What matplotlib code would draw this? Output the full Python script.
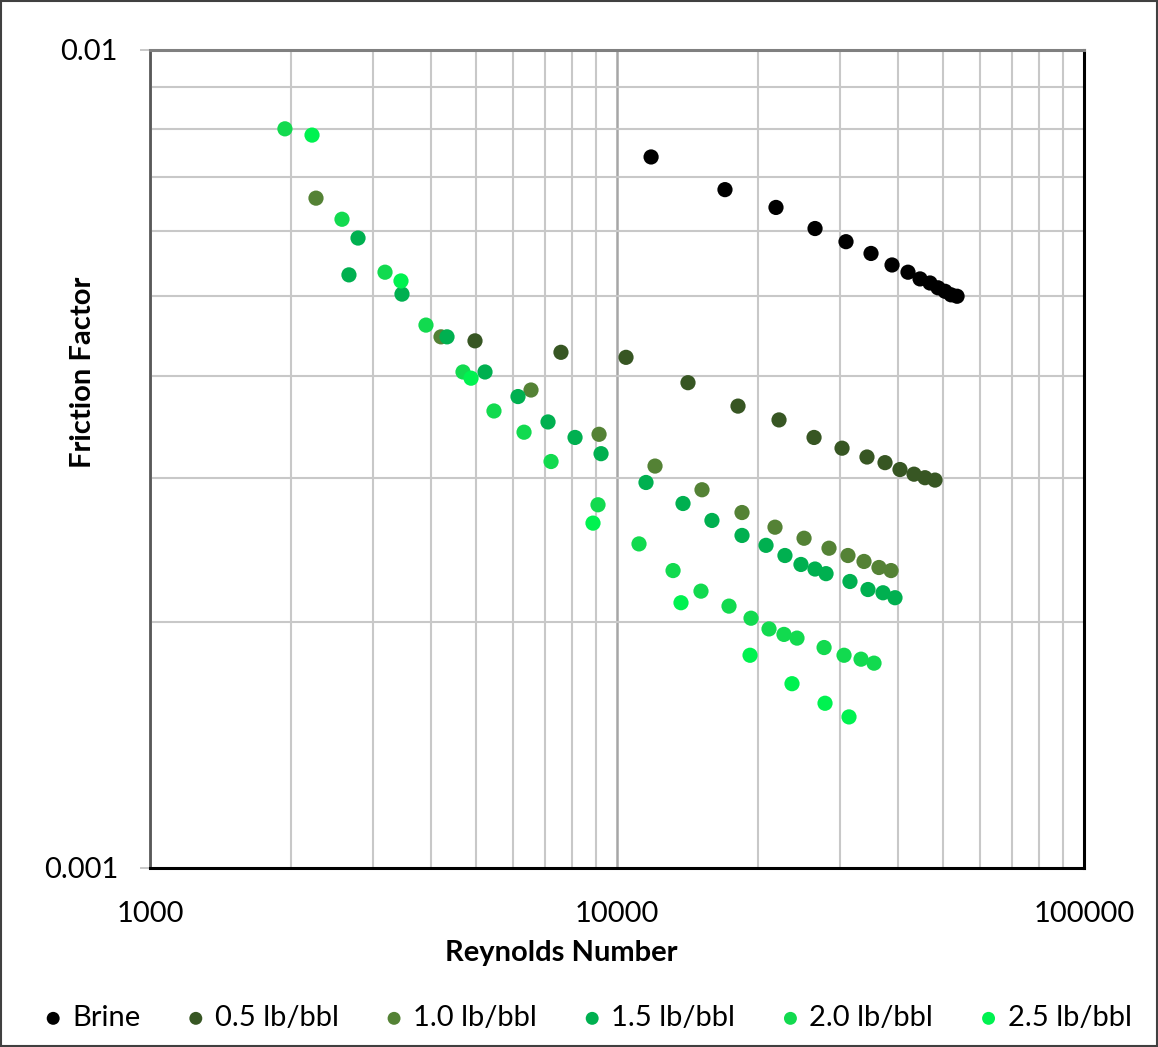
import numpy as np
import matplotlib
matplotlib.use("Agg")
import matplotlib.pyplot as plt
from matplotlib.ticker import FixedLocator, NullFormatter, FixedFormatter
from matplotlib.patches import Rectangle

plt.rcParams['font.family'] = ['Lato', 'DejaVu Sans']

# friction factor vs Reynolds number, one series per polymer loading
brine_re = [11830, 17030, 21900, 26550, 30930, 34990, 38810, 41990, 44560, 46800, 48690, 50410, 51920, 53480]
brine_f = [0.00740, 0.00675, 0.00642, 0.00605, 0.00583, 0.00564, 0.00546, 0.00535, 0.00525, 0.00519, 0.00512, 0.00507, 0.00502, 0.00500]

c05_re = [4965, 7586, 10454, 14191, 18160, 22230, 26420, 30330, 34300, 37490, 40360, 43250, 45650, 47970]
c05_f = [0.00441, 0.00427, 0.00421, 0.00392, 0.00367, 0.00353, 0.00336, 0.00326, 0.00318, 0.00313, 0.00307, 0.00303, 0.00300, 0.00298]

c10_re = [2267, 4199, 6544, 9153, 12062, 15206, 18522, 21794, 25150, 28443, 31230, 33800, 36390, 38620]
c10_f = [0.00659, 0.00446, 0.00384, 0.00339, 0.00310, 0.00290, 0.00272, 0.00261, 0.00253, 0.00246, 0.00241, 0.00237, 0.00233, 0.00231]

c15_re = [2667, 2789, 3464, 4325, 5216, 6138, 7117, 8131, 9243, 11537, 13847, 15970, 18522, 20850,
          22890, 24770, 26546, 28030, 31540, 34470, 37120, 39380]
c15_f = [0.00531, 0.00589, 0.00503, 0.00446, 0.00404, 0.00377, 0.00351, 0.00336, 0.00321, 0.00296, 0.00279,
         0.00266, 0.00255, 0.00248, 0.00241, 0.00235, 0.00232, 0.00229, 0.00224, 0.00219, 0.00217, 0.00214]

c20_re = [1945, 2577, 3186, 3899, 4680, 5452, 6323, 7224, 9106, 11146, 13184, 15130, 17372, 19364,
          21160, 22780, 24290, 27760, 30630, 33310, 35510]
c20_f = [0.00801, 0.00621, 0.00535, 0.00461, 0.00404, 0.00362, 0.00341, 0.00314, 0.00278, 0.00249, 0.00231,
         0.00218, 0.00209, 0.00202, 0.00196, 0.00193, 0.00191, 0.00186, 0.00182, 0.00180, 0.00178]

c25_re = [2223, 3447, 4869, 8884, 13710, 19270, 23700, 27890, 31390]
c25_f = [0.00787, 0.00522, 0.00397, 0.00264, 0.00211, 0.00182, 0.00168, 0.00159, 0.00153]

series = [
    ("Brine", brine_re, brine_f, "#000000"),
    ("0.5 lb/bbl", c05_re, c05_f, "#375623"),
    ("1.0 lb/bbl", c10_re, c10_f, "#548235"),
    ("1.5 lb/bbl", c15_re, c15_f, "#00B050"),
    ("2.0 lb/bbl", c20_re, c20_f, "#12DA4F"),
    ("2.5 lb/bbl", c25_re, c25_f, "#00F250"),
]

fig = plt.figure(figsize=(11.58, 10.47), dpi=100)
ax = fig.add_axes([150 / 1158, 1 - 868 / 1047, 934 / 1158, 818 / 1047])

for name, re, f, col in series:
    ax.scatter(re, f, s=120, color=col, edgecolors='none', label=name, zorder=3)

ax.set_xscale('log')
ax.set_yscale('log')
ax.set_xlim(1000, 100000)
ax.set_ylim(0.001, 0.01)

ax.xaxis.set_major_locator(FixedLocator([1000, 10000, 100000]))
ax.xaxis.set_major_formatter(FixedFormatter(['1000', '10000', '100000']))
ax.xaxis.set_minor_locator(FixedLocator([k * 10 ** e for e in (3, 4) for k in range(2, 10)]))
ax.xaxis.set_minor_formatter(NullFormatter())
ax.yaxis.set_major_locator(FixedLocator([0.001, 0.01]))
ax.yaxis.set_major_formatter(FixedFormatter(['0.001', '0.01']))
ax.yaxis.set_minor_locator(FixedLocator([k * 0.001 for k in range(2, 10)]))
ax.yaxis.set_minor_formatter(NullFormatter())

ax.grid(which='minor', color='#C8C8C8', linewidth=1.5)
ax.grid(which='major', axis='x', color='#A6A6A6', linewidth=1.8)
ax.set_axisbelow(True)

ax.tick_params(axis='x', which='both', length=0, pad=24, labelsize=21)
ax.tick_params(axis='y', which='major', length=7, width=1.2, color='#BFBFBF', pad=16, labelsize=21)
ax.tick_params(axis='y', which='minor', length=0)

ax.spines['left'].set_color('#595959')
ax.spines['left'].set_linewidth(2)
ax.spines['bottom'].set_color('#000000')
ax.spines['bottom'].set_linewidth(2.2)
ax.spines['right'].set_color('#000000')
ax.spines['right'].set_linewidth(2.2)
ax.spines['top'].set_color('#808080')
ax.spines['top'].set_linewidth(2.2)

ax.set_xlabel('Reynolds Number', fontsize=21, fontweight='bold', va='center', ha='center')
ax.xaxis.set_label_coords((561 - 150) / 934, (868 - 953) / 818)
ax.set_ylabel('Friction Factor', fontsize=21, fontweight='bold', va='center', ha='center')
ax.yaxis.set_label_coords((83 - 150) / 934, (868 - 372) / 818)

fig.legend(loc='center', bbox_to_anchor=(0.5 + 6 / 1158, 1 - 1018 / 1047), ncol=6, frameon=False,
           fontsize=21, markerscale=0.85, handletextpad=0.15, columnspacing=1.4, handlelength=1.0)

fig.patches.append(Rectangle((0.001, 0.001), 0.998, 0.998, transform=fig.transFigure,
                             fill=False, edgecolor='#404040', linewidth=1.5))

fig.savefig('out.png', dpi=100)
plt.close()
